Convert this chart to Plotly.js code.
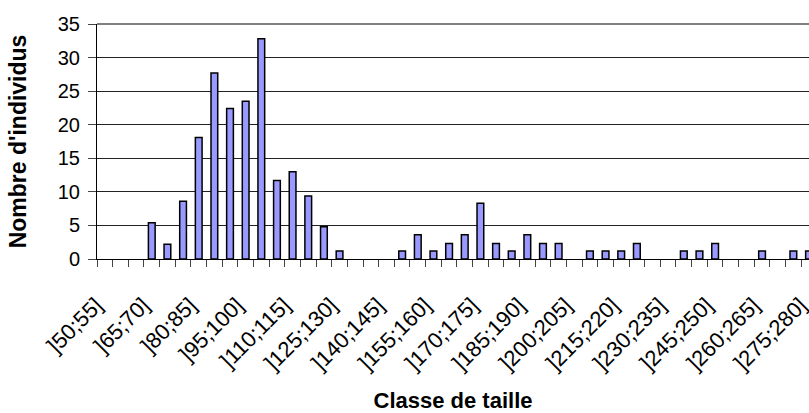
<!DOCTYPE html>
<html>
<head>
<meta charset="utf-8">
<script src="https://cdn.plot.ly/plotly-3.0.1.min.js"></script>
<style>html,body{margin:0;padding:0;background:#fff;}#chart{width:809px;height:413px;}</style>
</head>
<body>
<div id="chart"></div>
<script>
var categories = [
  "]50;55]","]55;60]","]60;65]","]65;70]","]70;75]","]75;80]","]80;85]","]85;90]",
  "]90;95]","]95;100]","]100;105]","]105;110]","]110;115]","]115;120]","]120;125]","]125;130]",
  "]130;135]","]135;140]","]140;145]","]145;150]","]150;155]","]155;160]","]160;165]","]165;170]",
  "]170;175]","]175;180]","]180;185]","]185;190]","]190;195]","]195;200]","]200;205]","]205;210]",
  "]210;215]","]215;220]","]220;225]","]225;230]","]230;235]","]235;240]","]240;245]","]245;250]",
  "]250;255]","]255;260]","]260;265]","]265;270]","]270;275]","]275;280]"
];
var counts = [
  0, 0, 0, 5.4, 2.2, 8.6, 18.1, 27.7,
  22.4, 23.5, 32.8, 11.7, 13.0, 9.4, 4.8, 1.2,
  0, 0, 0, 1.2, 3.6, 1.2, 2.3, 3.6,
  8.3, 2.3, 1.2, 3.6, 2.3, 2.3, 0, 1.2,
  1.2, 1.2, 2.3, 0, 0, 1.2, 1.2, 2.3,
  0, 0, 1.2, 0, 1.2, 1.2
];
var shownLabels = ["]50;55]","]65;70]","]80;85]","]95;100]","]110;115]","]125;130]","]140;145]",
  "]155;160]","]170;175]","]185;190]","]200;205]","]215;220]","]230;235]","]245;250]","]260;265]","]275;280]"];
var yTicks = [0, 5, 10, 15, 20, 25, 30, 35];

// trailing no-break spaces push each slanted label down-left, like the original
var tickText = categories.map(function(c){ return shownLabels.indexOf(c) >= 0 ? c + "\u00A0\u00A0" : ""; });
// empty classes are not drawn as bars (as in the spreadsheet chart)
var drawn = counts.map(function(v){ return v === 0 ? null : v; });

var trace = {
  type: "bar",
  x: categories,
  y: drawn,
  width: 0.43,
  marker: { color: "#9999FF", line: { color: "#000000", width: 1.5 } },
  hoverinfo: "x+y"
};

var layout = {
  width: 809, height: 413,
  margin: { l: 97, r: 0, t: 24, b: 154 },
  paper_bgcolor: "#ffffff",
  plot_bgcolor: "#ffffff",
  font: { family: "Liberation Sans, Arial, sans-serif", color: "#000" },
  showlegend: false,
  bargap: 0,
  xaxis: {
    type: "category",
    range: [-0.5, 45.0],
    tickmode: "array",
    tickvals: categories,
    ticktext: tickText,
    tickson: "boundaries",
    ticks: "outside",
    ticklen: 7,
    tickcolor: "#444",
    tickwidth: 1,
    tickangle: -45,
    ticklabelstandoff: 15,
    tickfont: { size: 22, family: "Liberation Sans, Arial, sans-serif" },
    showgrid: false,
    showline: true,
    linecolor: "#000",
    linewidth: 1,
    zeroline: false,
    automargin: false,
    title: { text: "<b>Classe de taille</b>", font: { size: 22, family: "Liberation Sans, Arial, sans-serif" }, standoff: 28 }
  },
  yaxis: {
    range: [0, 35],
    tickmode: "array",
    tickvals: yTicks,
    ticks: "outside",
    ticklen: 8,
    tickcolor: "#444",
    ticklabelstandoff: 4,
    tickfont: { size: 20, family: "Liberation Sans, Arial, sans-serif" },
    showgrid: true,
    gridcolor: "#222",
    gridwidth: 1,
    showline: true,
    linecolor: "#000",
    linewidth: 1,
    zeroline: false,
    automargin: false,
    title: { text: "<b>Nombre d'individus</b>", font: { size: 23, family: "Liberation Sans, Arial, sans-serif" }, standoff: 24 }
  },
  shapes: [
    { type: "line", xref: "paper", yref: "paper", x0: 0, x1: 1, y0: 1, y1: 1,
      line: { color: "#808080", width: 2 } }
  ]
};

Plotly.newPlot("chart", [trace], layout, { staticPlot: true, displayModeBar: false });
</script>
</body>
</html>
